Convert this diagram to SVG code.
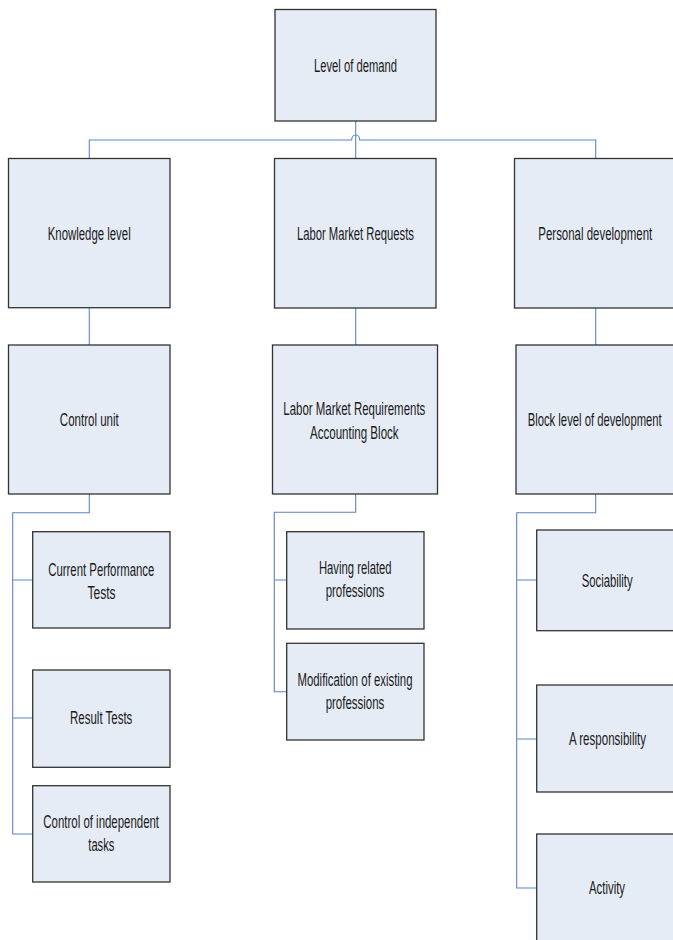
<svg xmlns="http://www.w3.org/2000/svg" width="673" height="940" viewBox="0 0 673 940">
<style>
.box{fill:#E6ECF6;stroke:#333;stroke-width:1.3}
.lbl{font-family:"Liberation Sans",Arial,sans-serif;font-size:17.5px;fill:#1a1a1a;text-anchor:middle}
.con{fill:none;stroke:#5B85C5;stroke-width:1.1}
</style>
<rect width="673" height="940" fill="#fff"/>
<g id="connectors">
<path class="con" d="M355.7,121 V158.5"/>
<path class="con" d="M89.3,158.5 V140 H351.7 A4,5 0 0 1 359.7,140 H595.7 V158.5"/>
<path class="con" d="M89.3,307.7 V345"/>
<path class="con" d="M355.7,308 V345"/>
<path class="con" d="M595.7,308 V345"/>
<path class="con" d="M89.3,494 V512.7 H12.7 V834 H32.7 M12.7,580 H32.7 M12.7,718 H32.7"/>
<path class="con" d="M355.7,494 V512.3 H274.3 V691.7 H286.7 M274.3,580 H286.7"/>
<path class="con" d="M595.7,494 V512.7 H516.7 V888 H536.7 M516.7,580 H536.7 M516.7,739 H536.7"/>
</g>
<g id="level-of-demand"><rect class="box" x="275" y="9.5" width="161" height="111.5"/><text class="lbl" x="355.5" y="71.5" textLength="83" lengthAdjust="spacingAndGlyphs">Level of demand</text></g>
<g id="knowledge-level"><rect class="box" x="8.5" y="158.5" width="161.5" height="149.2"/><text class="lbl" x="89.2" y="239.5" textLength="83" lengthAdjust="spacingAndGlyphs">Knowledge level</text></g>
<g id="labor-market-requests"><rect class="box" x="274.5" y="158.5" width="161.5" height="149.5"/><text class="lbl" x="355.4" y="239.5" textLength="117" lengthAdjust="spacingAndGlyphs">Labor Market Requests</text></g>
<g id="personal-development"><rect class="box" x="514.5" y="158.5" width="170" height="149.5"/><text class="lbl" x="595.3" y="239.5" textLength="114" lengthAdjust="spacingAndGlyphs">Personal development</text></g>
<g id="control-unit"><rect class="box" x="8.5" y="345" width="161.5" height="149"/><text class="lbl" x="89.3" y="425.5" textLength="59" lengthAdjust="spacingAndGlyphs">Control unit</text></g>
<g id="lmr-accounting-block"><rect class="box" x="272.5" y="345" width="165" height="149"/><text class="lbl" x="354.3" y="414.5" textLength="142" lengthAdjust="spacingAndGlyphs">Labor Market Requirements</text><text class="lbl" x="354.3" y="438.5" textLength="88.7" lengthAdjust="spacingAndGlyphs">Accounting Block</text></g>
<g id="block-level-of-development"><rect class="box" x="516" y="345" width="170" height="149"/><text class="lbl" x="594.7" y="425.5" textLength="134" lengthAdjust="spacingAndGlyphs">Block level of development</text></g>
<g id="current-performance-tests"><rect class="box" x="32.7" y="531.7" width="137.3" height="96.3"/><text class="lbl" x="101.3" y="575.5" textLength="106" lengthAdjust="spacingAndGlyphs">Current Performance</text><text class="lbl" x="101.5" y="598.5" textLength="28" lengthAdjust="spacingAndGlyphs">Tests</text></g>
<g id="result-tests"><rect class="box" x="32.7" y="670" width="137.3" height="97.3"/><text class="lbl" x="101.2" y="724.3" textLength="62.3" lengthAdjust="spacingAndGlyphs">Result Tests</text></g>
<g id="control-of-independent-tasks"><rect class="box" x="32.7" y="785.7" width="137.3" height="96.3"/><text class="lbl" x="101.2" y="828" textLength="115.7" lengthAdjust="spacingAndGlyphs">Control of independent</text><text class="lbl" x="101.3" y="851" textLength="26" lengthAdjust="spacingAndGlyphs">tasks</text></g>
<g id="having-related-professions"><rect class="box" x="286.7" y="531.7" width="137.3" height="97.3"/><text class="lbl" x="355.3" y="574" textLength="72.7" lengthAdjust="spacingAndGlyphs">Having related</text><text class="lbl" x="355" y="597" textLength="58.7" lengthAdjust="spacingAndGlyphs">professions</text></g>
<g id="modification-of-existing-professions"><rect class="box" x="286.7" y="643.3" width="137.3" height="96.7"/><text class="lbl" x="355" y="686" textLength="115" lengthAdjust="spacingAndGlyphs">Modification of existing</text><text class="lbl" x="355" y="709" textLength="58.7" lengthAdjust="spacingAndGlyphs">professions</text></g>
<g id="sociability"><rect class="box" x="536.7" y="530" width="150" height="100.7"/><text class="lbl" x="607.2" y="586.5" textLength="51" lengthAdjust="spacingAndGlyphs">Sociability</text></g>
<g id="a-responsibility"><rect class="box" x="536.7" y="685" width="150" height="107"/><text class="lbl" x="607.5" y="745" textLength="77" lengthAdjust="spacingAndGlyphs">A responsibility</text></g>
<g id="activity"><rect class="box" x="536.7" y="834" width="150" height="120"/><text class="lbl" x="607" y="894" textLength="36" lengthAdjust="spacingAndGlyphs">Activity</text></g>
</svg>
